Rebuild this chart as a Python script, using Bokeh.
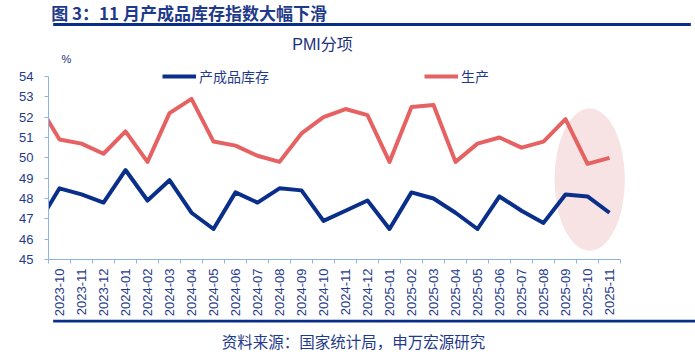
import math
from bokeh.plotting import figure
from bokeh.layouts import column
from bokeh.models import (FixedTicker, Label, Legend, LegendItem, Range1d, ColumnDataSource)
from bokeh.core.properties import value
from bokeh.embed import file_html
from bokeh.resources import INLINE

# ---------------- data ----------------
months = ["2023-10", "2023-11", "2023-12", "2024-01", "2024-02", "2024-03",
          "2024-04", "2024-05", "2024-06", "2024-07", "2024-08", "2024-09",
          "2024-10", "2024-11", "2024-12", "2025-01", "2025-02", "2025-03",
          "2025-04", "2025-05", "2025-06", "2025-07", "2025-08", "2025-09",
          "2025-10", "2025-11"]
# month before the window (only its segment into the plot is visible)
prev_month = "2023-09"
prev_inventory = 46.7
prev_production = 52.7

inventory = [48.5, 48.2, 47.8, 49.4, 47.9, 48.9, 47.3, 46.5, 48.3, 47.8, 48.5, 48.4,
             46.9, 47.4, 47.9, 46.5, 48.3, 48.0, 47.3, 46.5, 48.1, 47.4, 46.8, 48.2,
             48.1, 47.3]
production = [50.9, 50.7, 50.2, 51.3, 49.8, 52.2, 52.9, 50.8, 50.6, 50.1, 49.8, 51.2,
              52.0, 52.4, 52.1, 49.8, 52.5, 52.6, 49.8, 50.7, 51.0, 50.5, 50.8, 51.9,
              49.7, 50.0]
y_ticks = [45, 46, 47, 48, 49, 50, 51, 52, 53, 54]
series_names = ["产成品库存", "生产"]
highlight_months = ["2025-09", "2025-10", "2025-11"]

title_text = "图 3：11 月产成品库存指数大幅下滑"
chart_title = "PMI分项"
unit_text = "%"
source_text = "资料来源：国家统计局，申万宏源研究"

# ---------------- style ----------------
W, H = 695, 354
HEAD_H = 30            # header strip (title + rule)
FOOT_TOP = 319         # footer strip (rule + source)
FL, FB = 48, 259       # main frame left / bottom (page px)
PX_X = 22.0            # px per month
PX_Y = 183.0 / 9       # px per index point
BLUE = "#0a2f8a"
RED = "#e66262"
AXIS = "#8db3e0"
TEXT = "#1f3a8a"
DARK = "#1c3278"
PINK = "#f7e3e3"
FONT = "Liberation Sans, Noto Sans CJK SC"
CJK = "Noto Sans CJK SC"


def strip(y0, y1):
    f = figure(width=W, height=y1 - y0, output_backend="svg", toolbar_location=None,
               x_range=Range1d(0, W), y_range=Range1d(y1, y0),
               x_axis_type=None, y_axis_type=None, min_border=0)
    f.outline_line_color = None
    f.xgrid.grid_line_color = None
    f.ygrid.grid_line_color = None
    return f


# header
head = strip(0, HEAD_H)
head.text(x=[151], y=[12], text=[title_text], text_font=value(CJK), text_font_size="17px",
          text_font_style="bold", text_color=TEXT, text_align="center", text_baseline="middle")
head.quad(left=[5], right=[690], top=[22.5], bottom=[25.5], fill_color=BLUE, line_color=None)

# footer
foot = strip(FOOT_TOP, H)
foot.quad(left=[5], right=[695], top=[319], bottom=[322], fill_color=BLUE, line_color=None)
foot.text(x=[327.5], y=[340], text=[source_text], text_font=value(CJK), text_font_size="15.5px",
          text_color=TEXT, text_align="center", text_baseline="middle")

# main chart
n = len(months)
xs = [-0.5] + [i + 0.5 for i in range(n)]
src = ColumnDataSource(dict(x=xs,
                            inv=[prev_inventory] + inventory,
                            prod=[prev_production] + production))

main_h = FOOT_TOP - HEAD_H
y_top = y_ticks[0] + (FB - HEAD_H) / PX_Y
x_right = (W - FL) / PX_X
p = figure(width=W, height=main_h, output_backend="svg", toolbar_location=None,
           x_range=Range1d(0, x_right), y_range=Range1d(y_ticks[0], y_top),
           min_border_left=FL, min_border_right=0,
           min_border_top=0, min_border_bottom=FOOT_TOP - FB)
p.outline_line_color = None
p.xgrid.grid_line_color = None
p.ygrid.grid_line_color = None

# highlight ellipse around the last three months
hx = sum(months.index(m) + 0.5 for m in highlight_months) / len(highlight_months) + 0.1
p.ellipse(x=[hx], y=[48.93], width=3.2, height=7.0, fill_color=PINK, line_color=None)

r_inv = p.line("x", "inv", source=src, line_color=BLUE, line_width=4, line_join="round")
r_prod = p.line("x", "prod", source=src, line_color=RED, line_width=4, line_join="round")

ya = p.yaxis[0]
ya.ticker = FixedTicker(ticks=y_ticks)
ya.bounds = (y_ticks[0], y_ticks[-1])
ya.axis_line_color = AXIS
ya.major_tick_line_color = AXIS
ya.major_tick_in = 0
ya.major_tick_out = 4
ya.minor_tick_line_color = None
ya.major_label_text_font_size = "13px"
ya.major_label_text_color = TEXT
ya.major_label_text_font = FONT
ya.major_label_standoff = 11

xa = p.xaxis[0]
xa.ticker = FixedTicker(ticks=[i + 0.5 for i in range(n)], minor_ticks=list(range(n + 1)))
xa.bounds = (0, n)
xa.major_label_overrides = {i + 0.5: m for i, m in enumerate(months)}
xa.axis_line_color = AXIS
xa.major_tick_line_color = None
xa.major_tick_in = 0
xa.major_tick_out = 0
xa.minor_tick_line_color = AXIS
xa.minor_tick_in = 0
xa.minor_tick_out = 4
xa.major_label_orientation = math.pi / 2
xa.major_label_text_font_size = "13px"
xa.major_label_text_color = TEXT
xa.major_label_text_font = FONT
xa.major_label_standoff = 5

legend = Legend(items=[LegendItem(label=series_names[0], renderers=[r_inv]),
                       LegendItem(label=series_names[1], renderers=[r_prod])],
                orientation="horizontal", location=(162 - FL, FB - 86),
                spacing=155, glyph_width=34, glyph_height=16, label_standoff=3,
                padding=0, margin=0, background_fill_alpha=0, border_line_color=None,
                label_text_font_size="14px", label_text_color=TEXT, label_text_font=CJK)
p.add_layout(legend)


def lab(text, px, py, size, color, align="left", font=CJK):
    p.add_layout(Label(text=text, x=px - FL, y=FB - py, x_units="screen", y_units="screen",
                       text_font_size=size, text_color=color, text_align=align,
                       text_baseline="middle", text_font=font))


lab(chart_title, 322, 44, "16px", DARK, align="center", font=FONT)
lab(unit_text, 61, 58, "11px", DARK, font=FONT)

layout = column(head, p, foot, spacing=0)
open("out.html", "w").write(file_html(layout, INLINE))
